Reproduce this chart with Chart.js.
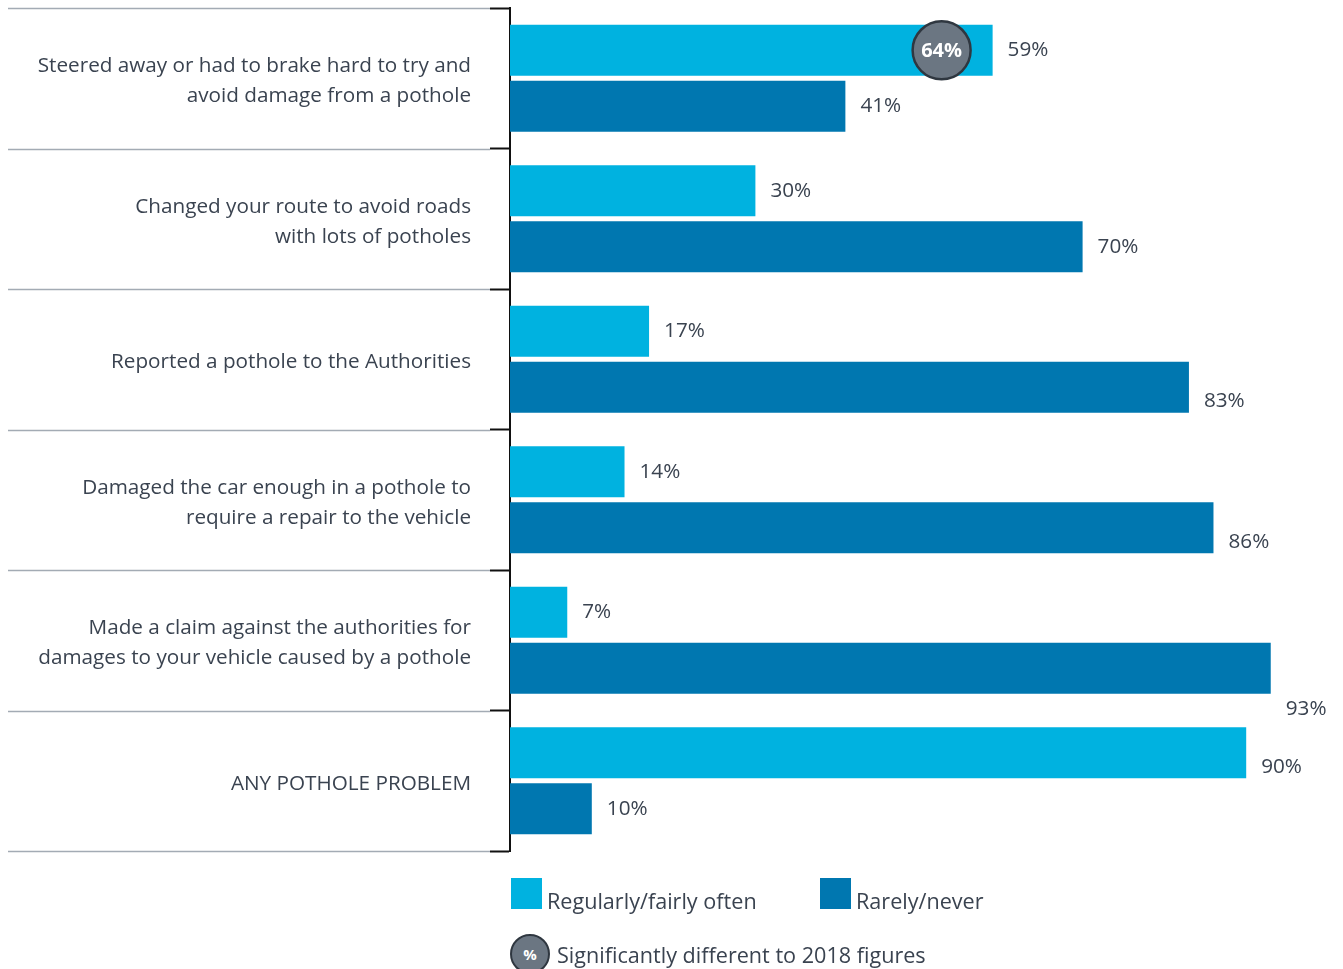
<!DOCTYPE html>
<html>
<head>
<meta charset="utf-8">
<script src="https://cdn.jsdelivr.net/npm/chart.js@4/dist/chart.umd.min.js"></script>
<style>
    html, body { margin: 0; padding: 0; background: #fff; }
    #wrap { position: relative; width: 1343px; height: 969px; }
    #potholeChart { position: absolute; left: 0; top: 0; }
    .legend { position: absolute; font-family: "Open Sans", sans-serif; font-size: 21.6px; color: #3a4350; }
    .swatch { position: absolute; width: 31px; height: 31px; }
    .badge { position: absolute; width: 36px; height: 36px; border-radius: 50%; background: #6b7682;
             border: 2px solid #2f3740; color: #fff; font: bold 15px "Open Sans", sans-serif;
             display: flex; align-items: center; justify-content: center; }
</style>
</head>
<body>
<div id="wrap">
    <canvas id="potholeChart" width="1343" height="969"></canvas>
    <div class="swatch" style="left:511px; top:878px; background:#00b2e0;"></div>
    <div class="legend" style="left:547px; top:886px;">Regularly/fairly often</div>
    <div class="swatch" style="left:820px; top:878px; background:#0077b0;"></div>
    <div class="legend" style="left:856px; top:886px;">Rarely/never</div>
    <div class="badge" style="left:510px; top:934px;">%</div>
    <div class="legend" style="left:557px; top:940px;">Significantly different to 2018 figures</div>
</div>
<script>
const categories = [
    ["Steered away or had to brake hard to try and", "avoid damage from a pothole"],
    ["Changed your route to avoid roads", "with lots of potholes"],
    "Reported a pothole to the Authorities",
    ["Damaged the car enough in a pothole to", "require a repair to the vehicle"],
    ["Made a claim against the authorities for", "damages to your vehicle caused by a pothole"],
    "ANY POTHOLE PROBLEM"
];
const regularly = [59, 30, 17, 14, 7, 90];
const rarely = [41, 70, 83, 86, 93, 10];
// 2018 figures where the change is significant (regularly/fairly often series)
const figures2018 = [64, null, null, null, null, null];

const TEXT = '#3a4350';
const FONT = '"Open Sans", sans-serif';

// gray separators to the left of the black axis ticks
const separatorPlugin = {
    id: 'separators',
    afterDraw(chart) {
        const ctx = chart.ctx;
        const y = chart.scales.y;
        const half = (y.getPixelForValue(1) - y.getPixelForValue(0)) / 2;
        ctx.save();
        ctx.strokeStyle = '#a3abb4';
        ctx.lineWidth = 1.5;
        for (let i = 0; i <= categories.length; i++) {
            const py = Math.round(y.getPixelForValue(i) - half) + 0.5;
            ctx.beginPath();
            ctx.moveTo(8, py);
            ctx.lineTo(y.right - 20, py);
            ctx.stroke();
        }
        ctx.restore();
    }
};

// percentage labels at the end of each bar, plus the 2018 badge
const valueLabelPlugin = {
    id: 'valueLabels',
    afterDatasetsDraw(chart) {
        const ctx = chart.ctx;
        const area = chart.chartArea;
        ctx.save();
        ctx.font = `20.7px ${FONT}`;
        ctx.fillStyle = TEXT;
        ctx.textBaseline = 'middle';
        chart.data.datasets.forEach((ds, di) => {
            chart.getDatasetMeta(di).data.forEach((bar, i) => {
                const value = ds.data[i];
                const text = value + '%';
                const x = bar.x + 15;
                let y = bar.y + (value >= 80 ? 14 : 0);
                // no room beside the bar: drop the label underneath it
                if (x + ctx.measureText(text).width > area.right - 10) {
                    y = bar.y + bar.height / 2 + 15;
                }
                ctx.fillText(text, x, y);
            });
        });

        const meta = chart.getDatasetMeta(0);
        figures2018.forEach((v, i) => {
            if (v === null) return;
            const bar = meta.data[i];
            const cx = bar.x - 51;
            const cy = bar.y;
            ctx.beginPath();
            ctx.arc(cx, cy, 29, 0, Math.PI * 2);
            ctx.fillStyle = '#6b7682';
            ctx.fill();
            ctx.lineWidth = 2.5;
            ctx.strokeStyle = '#2f3740';
            ctx.stroke();
            ctx.fillStyle = '#fff';
            ctx.font = `bold 20px ${FONT}`;
            ctx.textAlign = 'center';
            ctx.fillText(v + '%', cx, cy + 1);
        });
        ctx.restore();
    }
};

const ctx = document.getElementById('potholeChart').getContext('2d');
new Chart(ctx, {
    type: 'bar',
    data: {
        labels: categories,
        datasets: [
            {
                label: 'Regularly/fairly often',
                data: regularly,
                backgroundColor: '#00b2e0',
                categoryPercentage: 0.797,
                barPercentage: 0.91
            },
            {
                label: 'Rarely/never',
                data: rarely,
                backgroundColor: '#0077b0',
                categoryPercentage: 0.797,
                barPercentage: 0.91
            }
        ]
    },
    options: {
        indexAxis: 'y',
        responsive: false,
        animation: false,
        layout: {
            padding: { top: 8, right: 15, bottom: 118, left: 0 }
        },
        plugins: {
            legend: { display: false },
            tooltip: { enabled: false }
        },
        scales: {
            x: {
                display: false,
                min: 0,
                max: 100
            },
            y: {
                afterFit(scale) {
                    scale.width = 510;
                    scale.paddingTop = 0;
                    scale.paddingBottom = 0;
                },
                border: {
                    display: true,
                    color: '#111',
                    width: 2
                },
                grid: {
                    offset: true,
                    drawOnChartArea: false,
                    tickLength: 20,
                    tickColor: '#111',
                    tickWidth: 2
                },
                ticks: {
                    padding: 19,
                    labelOffset: 3,
                    color: TEXT,
                    font: {
                        family: FONT,
                        size: 20.7,
                        lineHeight: 1.45
                    }
                }
            }
        }
    },
    plugins: [separatorPlugin, valueLabelPlugin]
});
</script>
</body>
</html>
